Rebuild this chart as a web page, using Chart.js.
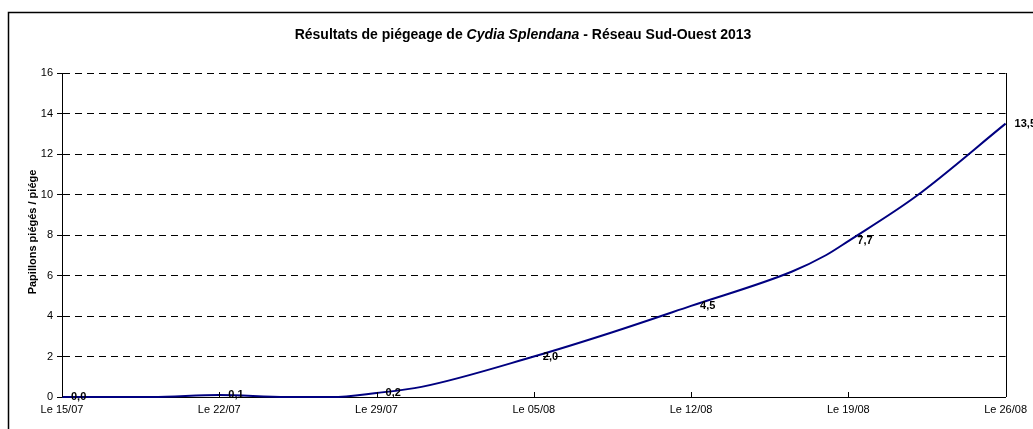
<!DOCTYPE html>
<html>
<head>
<meta charset="utf-8">
<script src="https://cdn.jsdelivr.net/npm/chart.js@4/dist/chart.umd.min.js"></script>
<style>
    html, body { margin: 0; padding: 0; background: #fff; }
    #wrap { width: 1033px; height: 429px; position: relative; }
</style>
</head>
<body>
<div id="wrap"><canvas id="piegeChart" width="1033" height="429"></canvas></div>
<script>
// ===== Données (jours depuis le 15/07/2013) =====
const jours = [0, 4, 7, 10, 12, 14, 16, 21, 24.5, 28, 32.5, 34, 35, 38, 42];
const papillons = [0, 0, 0.1, 0, 0, 0.2, 0.5, 2.0, 3.2, 4.5, 6.2, 7.0, 7.7, 9.9, 13.5];
// relevés hebdomadaires étiquetés
const joursEtiquetes = [0, 7, 14, 21, 28, 35, 42];
const yTicks = [0, 2, 4, 6, 8, 10, 12, 14, 16];

const FONT = "Arial, 'Liberation Sans', sans-serif";

function labelDate(v) {
    const d = new Date(2013, 6, 15 + v);
    const dd = String(d.getDate()).padStart(2, '0');
    const mm = String(d.getMonth() + 1).padStart(2, '0');
    return 'Le ' + dd + '/' + mm;
}

// cadre, titre, titre axe Y, étiquettes, graduations X
const decorPlugin = {
    id: 'decor',
    afterDraw(chart) {
        const ctx = chart.ctx;
        const area = chart.chartArea;
        const xs = chart.scales.x;
        ctx.save();

        // cadre extérieur
        ctx.strokeStyle = '#000';
        ctx.lineWidth = 1.5;
        ctx.strokeRect(8.5, 12.5, 1100, 500);

        // bord droit de la zone de traçage
        ctx.lineWidth = 1;
        ctx.beginPath();
        ctx.moveTo(Math.round(area.right) + 0.5, area.top);
        ctx.lineTo(Math.round(area.right) + 0.5, area.bottom);
        ctx.stroke();

        // graduations X vers l'intérieur
        for (let v = 0; v <= 42; v += 7) {
            const px = Math.round(xs.getPixelForValue(v)) + 0.5;
            ctx.beginPath();
            ctx.moveTo(px, area.bottom - 5);
            ctx.lineTo(px, area.bottom);
            ctx.stroke();
        }

        // titre avec partie en italique
        const parts = [
            { t: 'Résultats de piégeage de ', f: 'bold 14px ' + FONT },
            { t: 'Cydia Splendana', f: 'italic bold 14px ' + FONT },
            { t: ' - Réseau Sud-Ouest 2013', f: 'bold 14px ' + FONT }
        ];
        let total = 0;
        parts.forEach(p => { ctx.font = p.f; p.w = ctx.measureText(p.t).width; total += p.w; });
        let tx = 523 - total / 2;
        ctx.fillStyle = '#000';
        ctx.textBaseline = 'middle';
        ctx.textAlign = 'left';
        parts.forEach(p => { ctx.font = p.f; ctx.fillText(p.t, tx, 35); tx += p.w; });

        // titre axe Y
        ctx.save();
        ctx.translate(33, 232);
        ctx.rotate(-Math.PI / 2);
        ctx.font = 'bold 11px ' + FONT;
        ctx.textAlign = 'center';
        ctx.fillText('Papillons piégés / piége', 0, 0);
        ctx.restore();

        // étiquettes de données
        const meta = chart.getDatasetMeta(0);
        ctx.font = 'bold 11px ' + FONT;
        ctx.textAlign = 'left';
        ctx.textBaseline = 'middle';
        jours.forEach((j, i) => {
            if (!joursEtiquetes.includes(j)) return;
            const pt = meta.data[i];
            ctx.fillText(papillons[i].toFixed(1).replace('.', ','), pt.x + 9, pt.y);
        });
        ctx.restore();
    }
};

new Chart(document.getElementById('piegeChart'), {
    type: 'line',
    data: {
        datasets: [{
            data: jours.map((j, i) => ({ x: j, y: papillons[i] })),
            borderColor: '#000080',
            borderWidth: 2,
            pointRadius: 0,
            cubicInterpolationMode: 'monotone',
            fill: false,
            clip: false
        }]
    },
    options: {
        responsive: false,
        animation: false,
        layout: { padding: { left: 0, top: 73, right: 27, bottom: 0 } },
        plugins: {
            legend: { display: false },
            tooltip: { enabled: false },
            title: { display: false }
        },
        scales: {
            x: {
                type: 'linear',
                min: 0,
                max: 42,
                afterFit: s => { s.height = 32; },
                afterBuildTicks: s => { s.ticks = joursEtiquetes.map(v => ({ value: v })); },
                ticks: {
                    callback: v => labelDate(v),
                    color: '#000',
                    font: { family: FONT, size: 11 },
                    padding: 6,
                    maxRotation: 0,
                    autoSkip: false
                },
                grid: { display: true, drawOnChartArea: false, drawTicks: false },
                border: { display: true, color: '#000', width: 1 }
            },
            y: {
                min: 0,
                max: 16,
                afterFit: s => { s.width = 62; },
                afterBuildTicks: s => { s.ticks = yTicks.map(v => ({ value: v })); },
                ticks: {
                    color: '#000',
                    font: { family: FONT, size: 11 },
                    padding: 4
                },
                grid: {
                    color: '#000',
                    lineWidth: 1,
                    tickLength: 5,
                    tickColor: '#000',
                    tickBorderDash: [],
                    drawTicks: true
                },
                border: { display: true, color: '#000', width: 1, dash: [7, 5] }
            }
        }
    },
    plugins: [decorPlugin]
});
</script>
</body>
</html>
